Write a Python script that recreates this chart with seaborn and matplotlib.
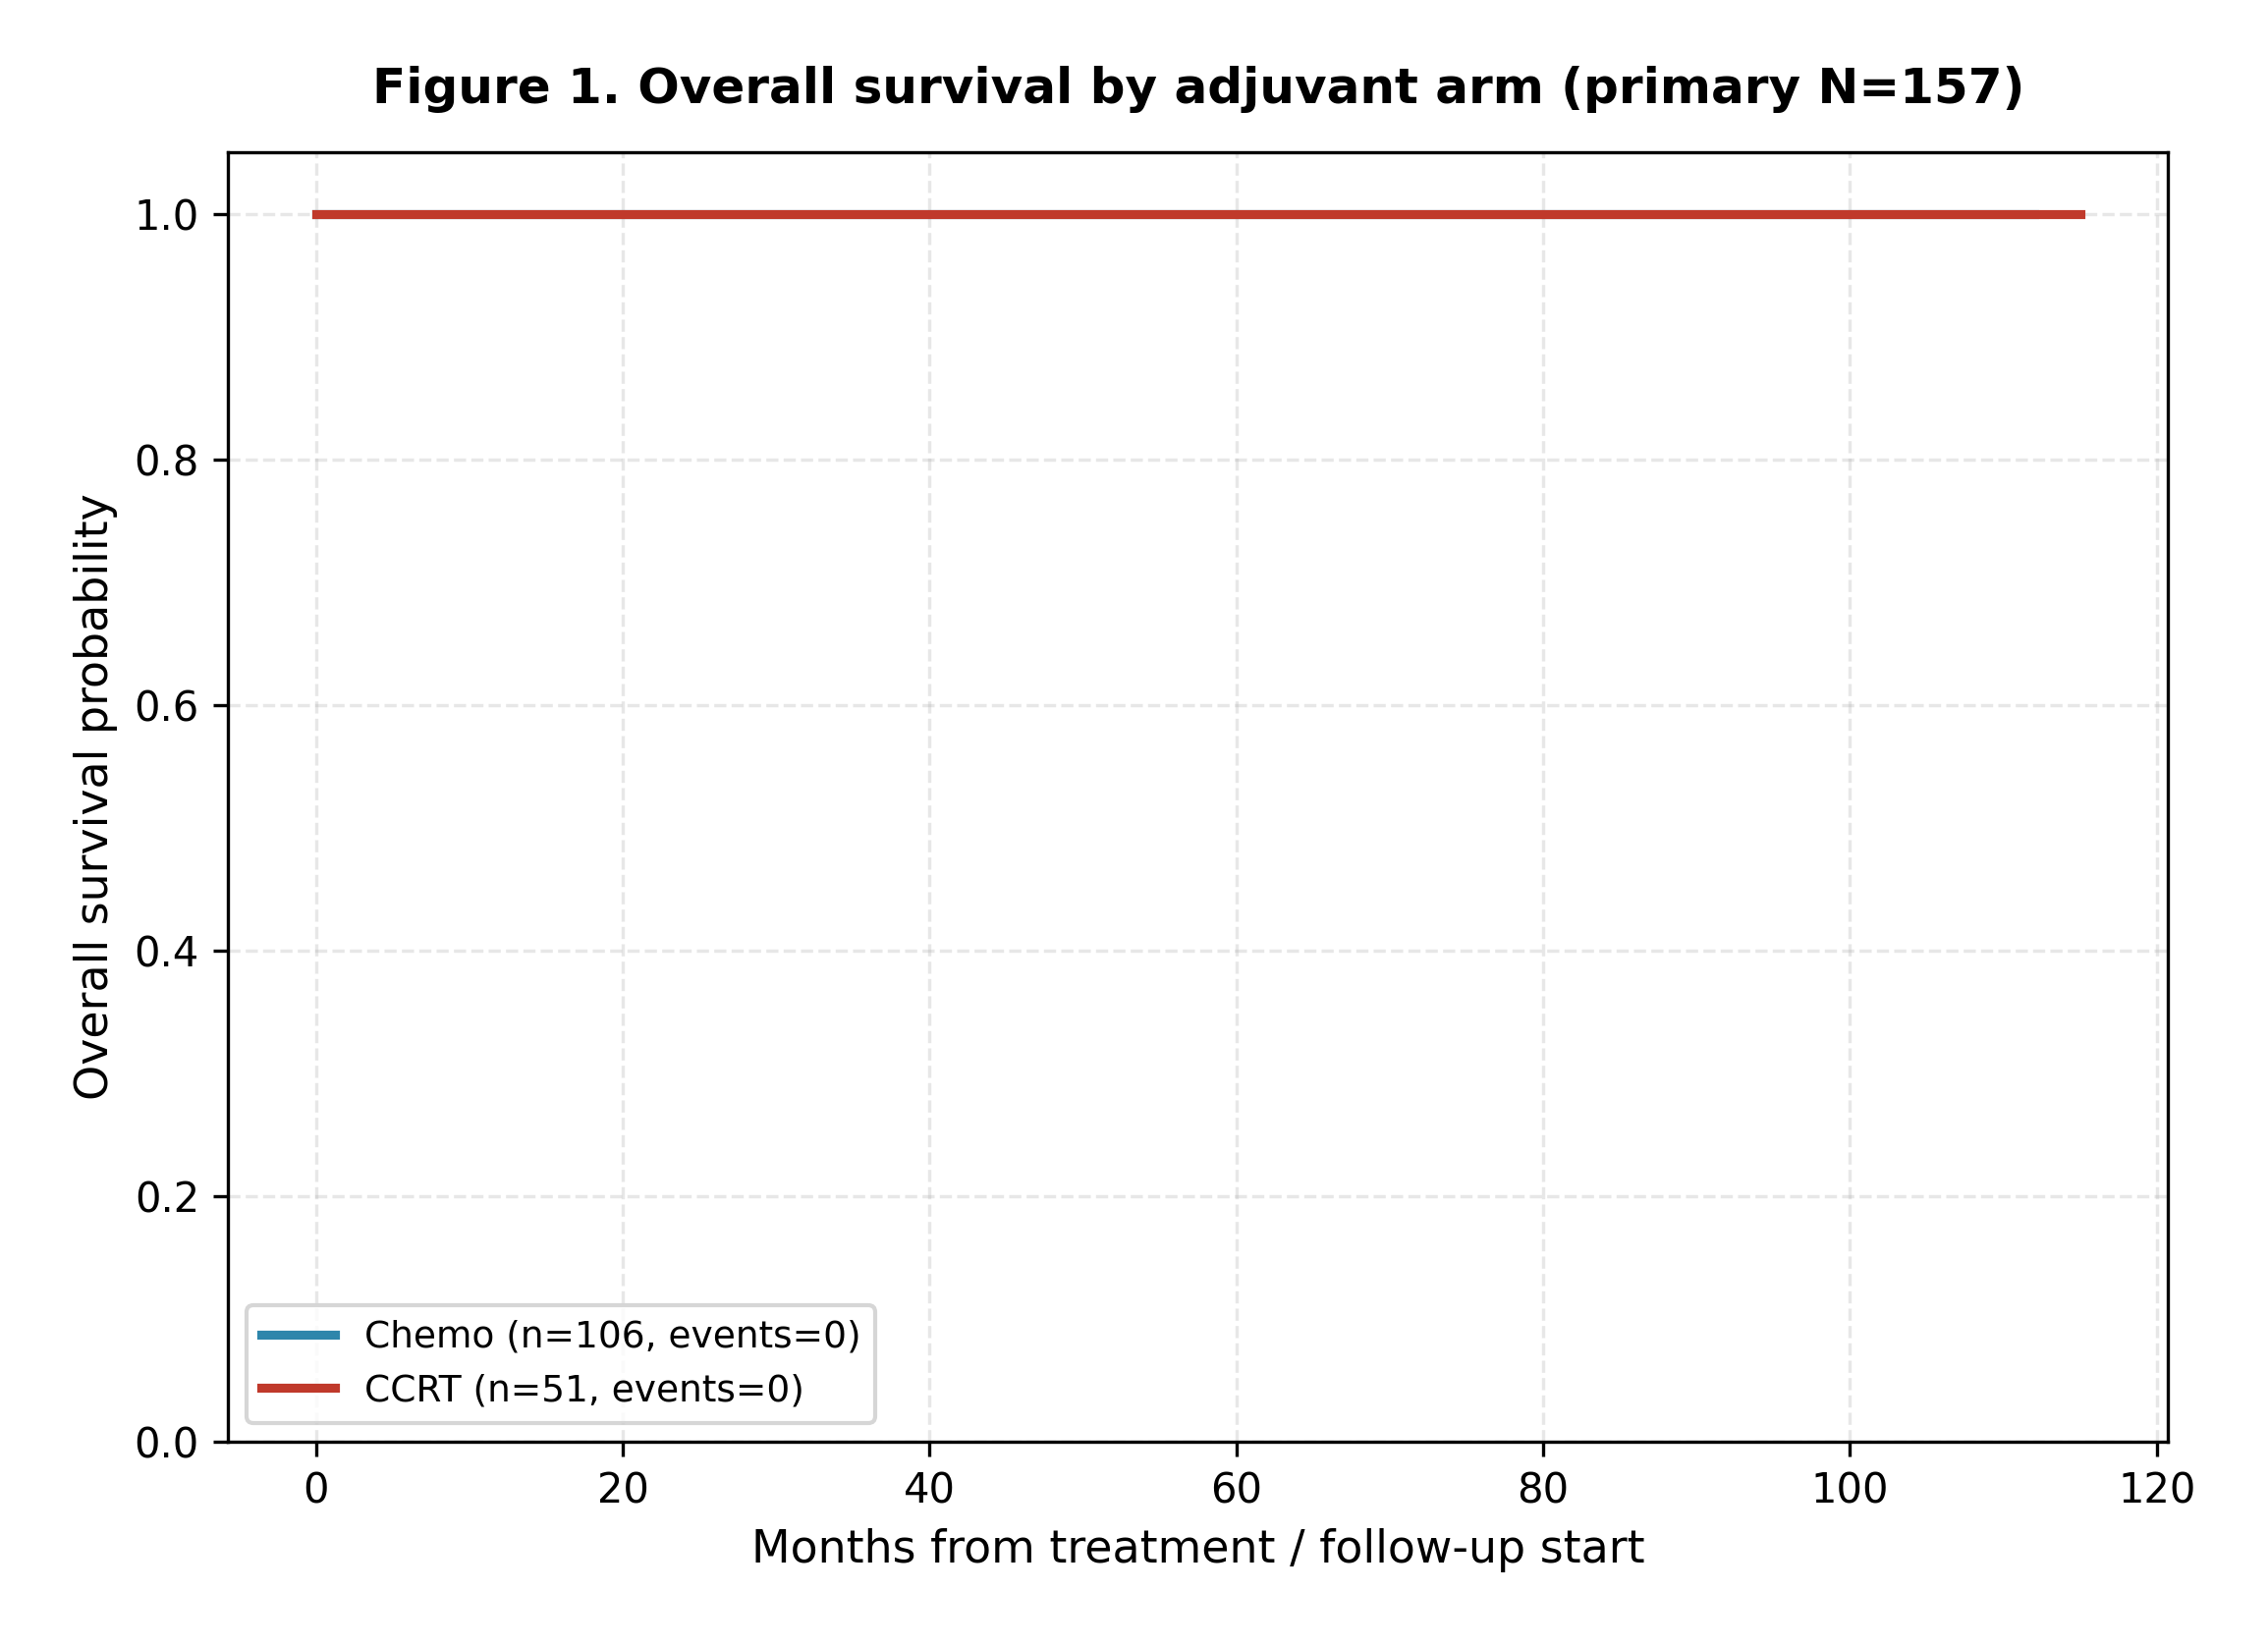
import pandas as pd, numpy as np, matplotlib
matplotlib.use('Agg')
import matplotlib.pyplot as plt
import seaborn as sns

arms = ['Chemo', 'CCRT']
n_pat = [106, 51]
n_events = [0, 0]
# KM step points (no events -> flat at 1.0 until last follow-up)
chemo_t = [0, 112]
chemo_s = [1.0, 1.0]
ccrt_t = [0, 115]
ccrt_s = [1.0, 1.0]
colors = ['#2E86AB', '#C0392B']

df = pd.concat([
    pd.DataFrame({'months': chemo_t, 'surv': chemo_s, 'arm': arms[0]}),
    pd.DataFrame({'months': ccrt_t, 'surv': ccrt_s, 'arm': arms[1]}),
])
labels = {a: f'{a} (n={n}, events={e})' for a, n, e in zip(arms, n_pat, n_events)}
df['label'] = df['arm'].map(labels)

plt.rcParams['font.family'] = ['DejaVu Sans']
fig, ax = plt.subplots(figsize=(2309/300, 1676/300), dpi=300)
sns.lineplot(data=df, x='months', y='surv', hue='label', palette=colors,
             drawstyle='steps-post', lw=2.2, ax=ax, estimator=None, sort=False,
             solid_capstyle='projecting')
ax.set_ylim(0, 1.05)
ax.grid(True, ls='--', alpha=0.3)
ax.set_xlabel('Months from treatment / follow-up start', fontsize=11)
ax.set_ylabel('Overall survival probability', fontsize=11)
ax.tick_params(labelsize=10)
ax.set_title('Figure 1. Overall survival by adjuvant arm (primary N=157)',
             fontsize=12, fontweight='bold', pad=12)
ax.legend(title=None, loc='lower left', fontsize=9)
fig.subplots_adjust(left=0.1005, right=0.956, top=0.9075, bottom=0.124)
fig.savefig('out.png', dpi=300)
